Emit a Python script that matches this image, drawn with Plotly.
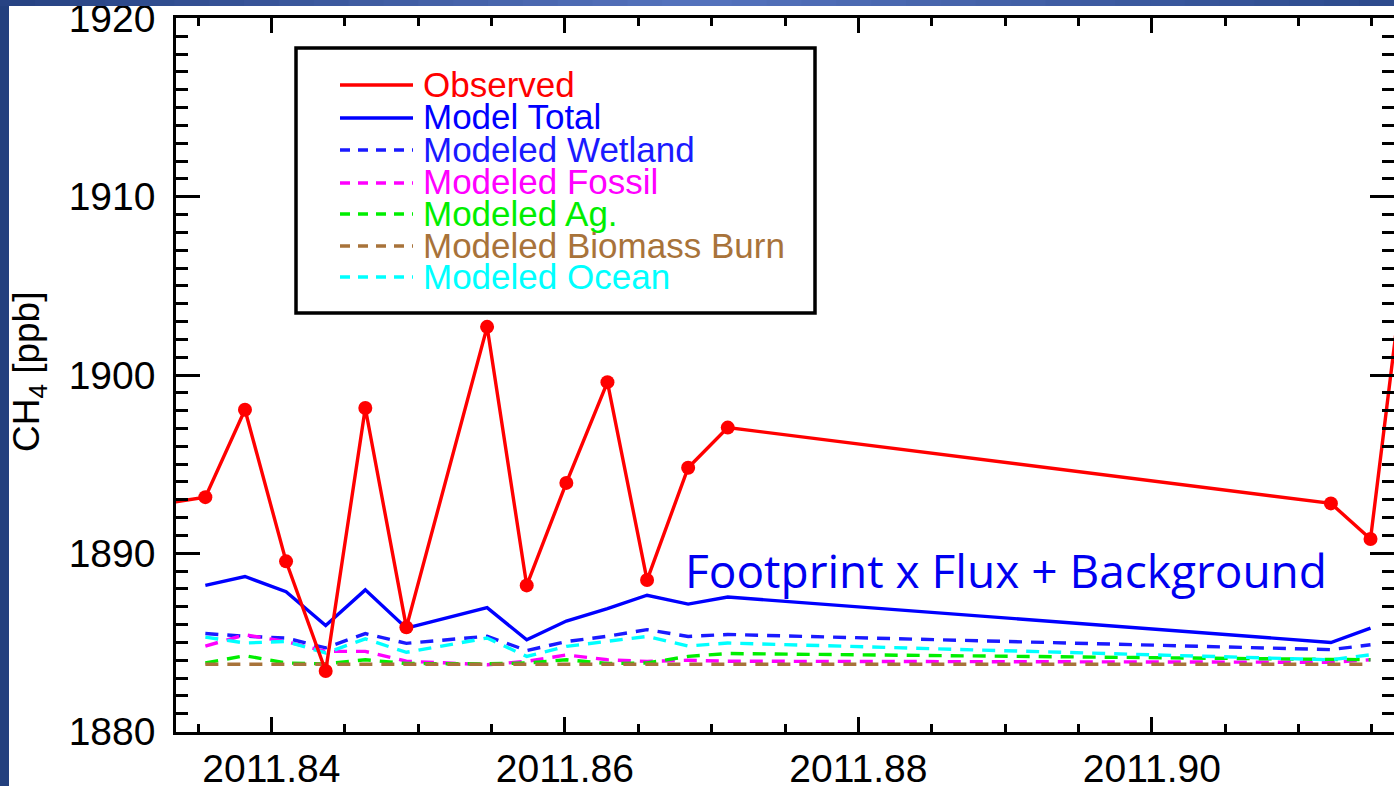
import plotly.graph_objects as go

# ---------------- data ----------------
obs_t = [2011.8328, 2011.8355, 2011.8382, 2011.8410, 2011.8437, 2011.8464, 2011.8492,
         2011.8547, 2011.8574, 2011.8601, 2011.8629, 2011.8656, 2011.8684, 2011.8711,
         2011.9122, 2011.9149, 2011.9177]
obs_v = [1892.8, 1893.15, 1898.05, 1889.55, 1883.4, 1898.15, 1885.85,
         1902.7, 1888.2, 1893.95, 1899.6, 1888.5, 1894.8, 1897.05,
         1892.8, 1890.8, 1909.5]

mod_t = [2011.8355, 2011.8382, 2011.8410, 2011.8437, 2011.8464, 2011.8492,
         2011.8547, 2011.8574, 2011.8601, 2011.8629, 2011.8656, 2011.8684, 2011.8711,
         2011.9122, 2011.9149]
model_total = [1888.2, 1888.7, 1887.85, 1885.95, 1887.95, 1885.8,
               1886.95, 1885.15, 1886.2, 1886.9, 1887.65, 1887.15, 1887.55,
               1885.0, 1885.8]
wetland = [1885.5, 1885.35, 1885.25, 1884.7, 1885.5, 1884.95,
           1885.35, 1884.55, 1885.05, 1885.35, 1885.72, 1885.34, 1885.45,
           1884.6, 1884.87]
fossil = [1884.8, 1885.43, 1885.05, 1884.5, 1884.5, 1883.95,
          1883.75, 1883.94, 1884.3, 1884.03, 1883.94, 1884.0, 1883.95,
          1883.89, 1884.03]
ag = [1883.85, 1884.26, 1883.85, 1883.8, 1884.03, 1883.82,
      1883.8, 1883.85, 1884.03, 1883.82, 1883.85, 1884.22, 1884.38,
      1884.07, 1884.03]
biomass = [1883.78, 1883.78, 1883.78, 1883.77, 1883.78, 1883.78,
           1883.77, 1883.78, 1883.78, 1883.77, 1883.78, 1883.78, 1883.78,
           1883.77, 1883.78]
ocean = [1885.3, 1884.97, 1885.06, 1884.41, 1885.2, 1884.45,
         1885.25, 1884.22, 1884.78, 1885.05, 1885.34, 1884.8, 1884.97,
         1884.03, 1884.31]

series_names = ["Observed", "Model Total", "Modeled Wetland", "Modeled Fossil",
                "Modeled Ag.", "Modeled Biomass Burn", "Modeled Ocean"]
series_colors = ["#ff0000", "#0000ff", "#1a1aff", "#ff00ff", "#00ee00", "#a8733a", "#00ffff"]
series_dash = ["solid", "solid", "dash", "dash", "dash", "dash", "dash"]

x_tickvals = [2011.84, 2011.86, 2011.88, 2011.90]
x_ticktext = ["2011.84", "2011.86", "2011.88", "2011.90"]
y_tickvals = [1880, 1890, 1900, 1910, 1920]
y_ticktext = ["1880", "1890", "1900", "1910", "1920"]

annotation_text = "Footprint x Flux + Background"

# ---------------- layout geometry ----------------
W, H = 1394, 786
L, T, B = 176, 18, 54
PW, PH = W - L, H - T - B


def px(x):
    return (x - L) / PW


def py(y):
    return (H - B - y) / PH


fig = go.Figure()

dash_pat = "13px,9px"
model_series = [model_total, wetland, fossil, ag, biomass, ocean]
for k, vals in enumerate(model_series, start=1):
    fig.add_trace(go.Scatter(
        x=mod_t, y=vals, mode="lines",
        line=dict(color=series_colors[k], width=3.4,
                  dash=dash_pat if series_dash[k] == "dash" else "solid"),
        name=series_names[k], showlegend=False, hoverinfo="skip"))

fig.add_trace(go.Scatter(
    x=obs_t, y=obs_v, mode="lines+markers",
    line=dict(color=series_colors[0], width=3.4),
    marker=dict(color=series_colors[0], size=14),
    name=series_names[0], showlegend=False))

shapes = []
# slide frame (blue) - left strip and gradient top strip
shapes.append(dict(type="rect", xref="paper", yref="paper", x0=px(0), x1=px(9), y0=py(H), y1=py(0),
                   fillcolor="#23407e", line=dict(width=0), layer="above"))
stops = [(0, (38, 66, 130)), (0.5, (86, 116, 190)), (1.0, (44, 74, 140))]
nseg = 40
for i in range(nseg):
    f = (i + 0.5) / nseg
    for j in range(len(stops) - 1):
        if stops[j][0] <= f <= stops[j + 1][0]:
            a = (f - stops[j][0]) / (stops[j + 1][0] - stops[j][0])
            c = tuple(int(stops[j][1][m] + a * (stops[j + 1][1][m] - stops[j][1][m])) for m in range(3))
            break
    shapes.append(dict(type="rect", xref="paper", yref="paper",
                       x0=px(W * i / nseg), x1=px(W * (i + 1) / nseg + 1),
                       y0=py(6), y1=py(0), fillcolor="rgb(%d,%d,%d)" % c,
                       line=dict(width=0), layer="above"))

# legend box
shapes.append(dict(type="rect", xref="paper", yref="paper", x0=px(296), x1=px(815),
                   y0=py(313), y1=py(48), fillcolor="white",
                   line=dict(color="black", width=3.5), layer="above"))
row_y = [85, 118, 150, 183, 214, 246, 277]
annotations = []
for k, name in enumerate(series_names):
    shapes.append(dict(type="line", xref="paper", yref="paper", x0=px(340), x1=px(413),
                       y0=py(row_y[k]), y1=py(row_y[k]),
                       line=dict(color=series_colors[k], width=3.4,
                                 dash="10px,8px" if series_dash[k] == "dash" else "solid"),
                       layer="above"))
    annotations.append(dict(xref="paper", yref="paper", x=px(421), y=py(row_y[k] - 1),
                            xanchor="left", yanchor="middle", showarrow=False, text=name,
                            font=dict(family="Liberation Sans, Arial, sans-serif", size=35,
                                      color=series_colors[k])))

annotations.append(dict(xref="paper", yref="paper", x=px(683), y=py(570),
                        xanchor="left", yanchor="middle", showarrow=False,
                        text=annotation_text,
                        font=dict(family="Open Sans, sans-serif", size=46, color="#0000f0")))
annotations.append(dict(xref="paper", yref="paper", x=px(29), y=py(372),
                        xanchor="center", yanchor="middle", showarrow=False, textangle=-90,
                        text="CH<sub>4</sub> [ppb]",
                        font=dict(family="Liberation Sans, Arial, sans-serif", size=37, color="black")))

axis_font = dict(family="Liberation Sans, Arial, sans-serif", size=39, color="black")
fig.update_layout(
    template="none",
    width=W, height=H,
    margin=dict(l=L, r=0, t=T, b=B, autoexpand=False),
    paper_bgcolor="white", plot_bgcolor="white",
    showlegend=False,
    shapes=shapes, annotations=annotations,
    xaxis=dict(range=[2011.8335, 2011.9165], tickmode="array", tickvals=x_tickvals,
               ticktext=x_ticktext, ticks="inside", ticklen=15, tickwidth=2.5, tickcolor="black",
               showline=True, linecolor="black", linewidth=2.5, mirror="ticks",
               showgrid=False, zeroline=False, tickfont=axis_font, ticklabelstandoff=0,
               automargin=False,
               minor=dict(tickmode="linear", tick0=2011.84, dtick=0.005, ticks="inside",
                          ticklen=8, tickwidth=2.5, tickcolor="black", showgrid=False)),
    yaxis=dict(range=[1879.98, 1920.02], tickmode="array", tickvals=y_tickvals,
               ticktext=y_ticktext, ticks="inside", ticklen=24, tickwidth=2.5, tickcolor="black",
               showline=True, linecolor="black", linewidth=2.5, mirror="ticks",
               showgrid=False, zeroline=False, tickfont=axis_font, ticklabelstandoff=10,
               ticklabeloverflow="allow", automargin=False,
               minor=dict(tickmode="linear", tick0=1880, dtick=1, ticks="inside",
                          ticklen=12, tickwidth=2.5, tickcolor="black", showgrid=False)),
)

fig.write_html("out.html", config={"displayModeBar": False})
